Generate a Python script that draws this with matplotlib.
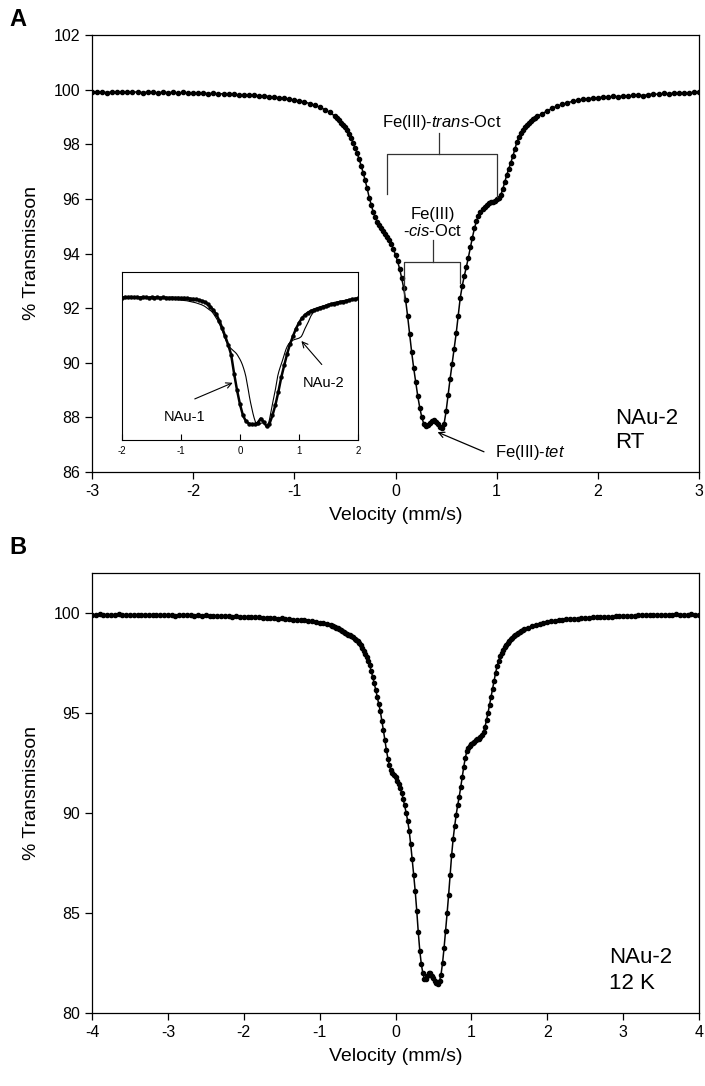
import numpy as np
import matplotlib
matplotlib.use("Agg")
import matplotlib.pyplot as plt

plt.rcParams['font.family'] = 'Liberation Sans'
plt.rcParams['mathtext.fontset'] = 'custom'
plt.rcParams['mathtext.rm'] = 'Liberation Sans'
plt.rcParams['mathtext.it'] = 'Liberation Sans:italic'
plt.rcParams['axes.unicode_minus'] = False

# ---- panel A : NAu-2, room temperature ----
vel_a = np.concatenate([np.linspace(-3.0, -0.60, 49),
                        np.linspace(-0.58, 1.40, 100),
                        np.linspace(1.45, 3.00, 32)])
trans_a_left = [
    99.90, 99.93, 99.91, 99.89, 99.92, 99.90, 99.93, 99.91, 99.90, 99.92,
    99.89, 99.91, 99.90, 99.88, 99.91, 99.89, 99.90, 99.87, 99.90, 99.88,
    99.89, 99.86, 99.88, 99.85, 99.87, 99.84, 99.85, 99.83, 99.84, 99.80,
    99.82, 99.79, 99.80, 99.77, 99.78, 99.74, 99.73, 99.70, 99.68, 99.65,
    99.62, 99.58, 99.55, 99.49, 99.43, 99.36, 99.27, 99.17, 99.03]
trans_a_dip = [
    98.95, 98.87, 98.78, 98.69, 98.62, 98.53, 98.39, 98.23, 98.05, 97.88,
    97.69, 97.46, 97.22, 96.96, 96.68, 96.38, 96.05, 95.78, 95.52, 95.32,
    95.17, 95.03, 94.92, 94.82, 94.72, 94.62, 94.50, 94.34, 94.15, 93.95,
    93.72, 93.45, 93.12, 92.75, 92.30, 91.70, 91.05, 90.38, 89.80, 89.28,
    88.78, 88.35, 88.00, 87.76, 87.68, 87.72, 87.78, 87.86, 87.90, 87.84,
    87.74, 87.66, 87.62, 87.76, 88.22, 88.82, 89.42, 89.97, 90.50, 91.08,
    91.72, 92.38, 92.82, 93.18, 93.50, 93.85, 94.22, 94.58, 94.92, 95.18,
    95.38, 95.52, 95.63, 95.72, 95.79, 95.84, 95.87, 95.90, 95.94, 95.98,
    96.05, 96.14, 96.35, 96.62, 96.88, 97.10, 97.33, 97.56, 97.82, 98.08,
    98.26, 98.41, 98.53, 98.62, 98.70, 98.78, 98.85, 98.91, 98.97, 99.02]
trans_a_right = [
    99.12, 99.22, 99.32, 99.40, 99.46, 99.52, 99.57, 99.61, 99.64, 99.66,
    99.69, 99.70, 99.73, 99.72, 99.75, 99.74, 99.77, 99.76, 99.79, 99.80,
    99.78, 99.82, 99.84, 99.83, 99.86, 99.85, 99.87, 99.86, 99.89, 99.88,
    99.90, 99.91]
trans_a = np.array(trans_a_left + trans_a_dip + trans_a_right)

# ---- inset : NAu-1 spectrum ----
vel_nau1 = np.linspace(-2.0, 2.0, 81)
trans_nau1 = [
    99.85, 99.90, 99.88, 99.92, 99.87, 99.90, 99.86, 99.91, 99.88, 99.85,
    99.89, 99.86, 99.88, 99.84, 99.87, 99.85, 99.83, 99.86, 99.82, 99.84,
    99.80, 99.82, 99.78, 99.76, 99.72, 99.68, 99.62, 99.54, 99.44, 99.25,
    98.98, 98.65, 98.25, 97.65, 96.95, 96.15, 95.35, 94.40, 92.60, 91.00,
    89.65, 88.60, 88.05, 87.82, 87.75, 87.74, 87.90, 88.30, 88.00, 87.55,
    87.80, 88.60, 89.60, 90.85, 92.25, 93.40, 94.50, 95.45, 96.20, 96.90,
    97.45, 97.90, 98.20, 98.42, 98.58, 98.70, 98.80, 98.90, 98.98, 99.06,
    99.13, 99.20, 99.27, 99.34, 99.41, 99.48, 99.55, 99.62, 99.68, 99.74,
    99.79]

# ---- panel B : NAu-2, 12 K ----
vel_b = np.concatenate([np.linspace(-4.0, -0.85, 64),
                        np.linspace(-0.84, 1.70, 128),
                        np.linspace(1.75, 4.00, 46)])
trans_b_left = [
    99.92, 99.90, 99.93, 99.91, 99.89, 99.92, 99.90, 99.93, 99.91, 99.89,
    99.91, 99.90, 99.92, 99.89, 99.91, 99.88, 99.90, 99.92, 99.89, 99.91,
    99.88, 99.90, 99.87, 99.89, 99.91, 99.88, 99.90, 99.87, 99.89, 99.86,
    99.88, 99.85, 99.87, 99.84, 99.86, 99.83, 99.85, 99.82, 99.84, 99.81,
    99.82, 99.80, 99.81, 99.78, 99.79, 99.76, 99.77, 99.74, 99.75, 99.72,
    99.73, 99.70, 99.70, 99.67, 99.66, 99.64, 99.63, 99.60, 99.58, 99.55,
    99.52, 99.48, 99.44, 99.39]
trans_b_dip = [
    99.37, 99.34, 99.30, 99.27, 99.23, 99.20, 99.16, 99.12, 99.07, 99.02,
    98.97, 98.92, 98.88, 98.83, 98.78, 98.72, 98.66, 98.59, 98.51, 98.40,
    98.27, 98.12, 97.95, 97.78, 97.62, 97.38, 97.10, 96.80, 96.48, 96.15,
    95.80, 95.46, 95.08, 94.62, 94.15, 93.65, 93.15, 92.72, 92.38, 92.16,
    92.02, 91.90, 91.78, 91.62, 91.45, 91.26, 91.02, 90.72, 90.38, 90.02,
    89.62, 89.12, 88.45, 87.68, 86.90, 86.08, 85.12, 84.05, 83.12, 82.45,
    82.00, 81.72, 81.68, 81.86, 82.02, 81.98, 81.85, 81.74, 81.62, 81.50,
    81.46, 81.60, 81.92, 82.50, 83.25, 84.10, 84.98, 85.90, 86.92, 87.90,
    88.72, 89.35, 89.92, 90.40, 90.82, 91.30, 91.82, 92.32, 92.76, 93.08,
    93.25, 93.35, 93.43, 93.50, 93.56, 93.63, 93.68, 93.72, 93.78, 93.88,
    94.05, 94.32, 94.65, 95.02, 95.42, 95.80, 96.20, 96.62, 97.02, 97.35,
    97.62, 97.84, 98.01, 98.15, 98.28, 98.39, 98.50, 98.60, 98.68, 98.76,
    98.84, 98.90, 98.96, 99.01, 99.06, 99.10, 99.14, 99.18]
trans_b_right = [
    99.26, 99.33, 99.39, 99.45, 99.50, 99.56, 99.59, 99.62, 99.64, 99.66,
    99.69, 99.70, 99.72, 99.72, 99.74, 99.76, 99.75, 99.78, 99.79, 99.78,
    99.81, 99.82, 99.81, 99.84, 99.85, 99.84, 99.86, 99.87, 99.86, 99.88,
    99.89, 99.88, 99.90, 99.89, 99.91, 99.90, 99.92, 99.90, 99.91, 99.93,
    99.91, 99.92, 99.90, 99.93, 99.91, 99.92]
trans_b = np.array(trans_b_left + trans_b_dip + trans_b_right)

xticks_a = [-3, -2, -1, 0, 1, 2, 3]
yticks_a = [86, 88, 90, 92, 94, 96, 98, 100, 102]
xticks_b = [-4, -3, -2, -1, 0, 1, 2, 3, 4]
yticks_b = [80, 85, 90, 95, 100]
xticks_in = [-2, -1, 0, 1, 2]

W, H = 705, 1086
fig = plt.figure(figsize=(W / 100, H / 100), dpi=100)

def style(ax):
    for s in ax.spines.values():
        s.set_linewidth(0.9)
    ax.tick_params(direction='out', length=5, width=0.9, labelsize=11.5,
                   top=False, right=False)

# ---------------- panel A ----------------
axA = fig.add_axes([92 / W, 1 - 472 / H, 607 / W, 437 / H])
axA.plot(vel_a, trans_a, '-o', color='black', lw=1.1, ms=3.0)
axA.set_xlim(-3, 3)
axA.set_ylim(86, 102)
axA.set_xticks(xticks_a)
axA.set_yticks(yticks_a)
style(axA)
axA.set_xlabel('Velocity (mm/s)', fontsize=14, labelpad=6)
axA.set_ylabel('% Transmisson', fontsize=14, labelpad=10)

# trans-Oct bracket
bk = dict(color='#333333', lw=0.9)
axA.plot([-0.088, -0.088, 1.0, 1.0], [96.19, 97.66, 97.66, 96.08], **bk)
axA.plot([0.43, 0.43], [97.66, 98.42], **bk)
axA.text(0.46, 98.79, r'Fe(III)-$\mathit{trans}$-Oct', fontsize=12,
         ha='center', va='center')
# cis-Oct bracket
axA.plot([0.086, 0.086, 0.636, 0.636], [92.32, 93.69, 93.69, 92.92], **bk)
axA.plot([0.367, 0.367], [93.69, 94.5], **bk)
axA.text(0.37, 95.42, 'Fe(III)', fontsize=12, ha='center', va='center')
axA.text(0.37, 94.81, r'-$\mathit{cis}$-Oct', fontsize=12, ha='center', va='center')
# tet arrow
axA.annotate('', xy=(0.39, 87.5), xytext=(0.90, 86.7),
             arrowprops=dict(arrowstyle='->', lw=0.9, color='black'))
axA.text(0.98, 86.72, r'Fe(III)-$\mathit{tet}$', fontsize=12, ha='left', va='center')
axA.text(2.17, 87.97, 'NAu-2', fontsize=16, ha='left', va='center')
axA.text(2.17, 87.09, 'RT', fontsize=16, ha='left', va='center')

# ---------------- inset ----------------
axI = fig.add_axes([122 / W, 1 - 440 / H, 236 / W, 168 / H])
mask = (vel_a >= -2) & (vel_a <= 2)
axI.plot(vel_nau1, trans_nau1, '-o', color='black', lw=1.8, ms=2.2)
axI.plot(vel_a[mask], trans_a[mask], '-', color='black', lw=0.8)
axI.set_xlim(-2, 2)
axI.set_ylim(86.25, 102.3)
axI.set_xticks(xticks_in)
axI.set_yticks([])
for s in axI.spines.values():
    s.set_linewidth(0.8)
axI.tick_params(axis='x', direction='in', length=4, width=0.8, labelsize=7, pad=4)
axI.annotate('', xy=(-0.08, 91.82), xytext=(-0.81, 90.07),
             arrowprops=dict(arrowstyle='->', lw=0.8, color='black'))
axI.text(-0.944, 88.47, 'NAu-1', fontsize=10.5, ha='center', va='center')
axI.annotate('', xy=(1.01, 95.91), xytext=(1.417, 93.26),
             arrowprops=dict(arrowstyle='->', lw=0.8, color='black'))
axI.text(1.41, 91.67, 'NAu-2', fontsize=10.5, ha='center', va='center')

# ---------------- panel B ----------------
axB = fig.add_axes([92 / W, 1 - 1013 / H, 607 / W, 440 / H])
axB.plot(vel_b, trans_b, '-o', color='black', lw=1.1, ms=3.0)
axB.set_xlim(-4, 4)
axB.set_ylim(80, 102)
axB.set_xticks(xticks_b)
axB.set_yticks(yticks_b)
style(axB)
axB.set_xlabel('Velocity (mm/s)', fontsize=14, labelpad=6)
axB.set_ylabel('% Transmisson', fontsize=14, labelpad=10)
axB.text(2.81, 82.8, 'NAu-2', fontsize=16, ha='left', va='center')
axB.text(2.81, 81.5, '12 K', fontsize=16, ha='left', va='center')

fig.text(18 / W, 1 - 20 / H, 'A', fontsize=17, fontweight='bold', ha='center', va='center')
fig.text(18 / W, 1 - 547 / H, 'B', fontsize=17, fontweight='bold', ha='center', va='center')

fig.savefig('out.png', dpi=100)
